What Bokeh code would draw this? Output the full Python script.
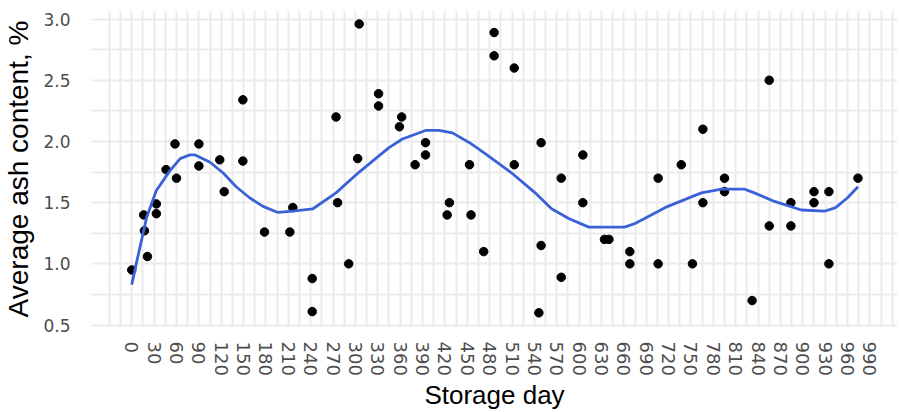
from bokeh.plotting import figure
from bokeh.models import FixedTicker, Range1d, NumeralTickFormatter
from bokeh.embed import file_html
from bokeh.resources import INLINE

# ---- data ----
storage_day = [0, 16, 17, 21, 33, 33, 46, 58, 60, 90,
               90, 118, 124, 149, 149, 178, 212, 216, 242, 242,
               274, 276, 291, 303, 305, 331, 331, 359, 362, 380,
               394, 394, 423, 426, 453, 455, 472, 486, 486, 513,
               513, 546, 549, 549, 576, 576, 605, 605, 634, 640,
               668, 668, 706, 706, 737, 752, 766, 766, 795, 795,
               832, 855, 855, 884, 884, 915, 915, 935, 935, 974]
ash_content = [0.95, 1.40, 1.27, 1.06, 1.49, 1.41, 1.77, 1.98, 1.70, 1.98,
               1.80, 1.85, 1.59, 2.34, 1.84, 1.26, 1.26, 1.46, 0.88, 0.61,
               2.20, 1.50, 1.00, 1.86, 2.96, 2.39, 2.29, 2.12, 2.20, 1.81,
               1.99, 1.89, 1.40, 1.50, 1.81, 1.40, 1.10, 2.89, 2.70, 2.60,
               1.81, 0.60, 1.99, 1.15, 1.70, 0.89, 1.89, 1.50, 1.20, 1.20,
               1.10, 1.00, 1.70, 1.00, 1.81, 1.00, 2.10, 1.50, 1.70, 1.59,
               0.70, 2.50, 1.31, 1.50, 1.31, 1.59, 1.50, 1.59, 1.00, 1.70]

smooth_day = [0, 6, 20, 33, 51, 65, 78, 85, 105, 123, 140, 158, 176, 196, 216,
              243, 274, 305, 345, 363, 394, 412, 430, 453, 474, 510, 541, 563,
              586, 613, 644, 661, 675, 719, 764, 791, 822, 835, 862, 898, 929,
              944, 960, 974]
smooth_ash = [0.83, 1.00, 1.38, 1.60, 1.76, 1.86, 1.89, 1.89, 1.83, 1.74, 1.63,
              1.54, 1.47, 1.42, 1.43, 1.45, 1.58, 1.75, 1.95, 2.02, 2.09, 2.09,
              2.07, 1.99, 1.90, 1.74, 1.58, 1.45, 1.37, 1.30, 1.30, 1.30, 1.33,
              1.47, 1.58, 1.61, 1.61, 1.58, 1.51, 1.44, 1.43, 1.46, 1.54, 1.63]

x_ticks = list(range(0, 991, 30))
x_grid = list(range(-30, 1021, 15))
y_ticks = [0.5, 1.0, 1.5, 2.0, 2.5, 3.0]
y_grid = [0.5, 0.75, 1.0, 1.25, 1.5, 1.75, 2.0, 2.25, 2.5, 2.75, 3.0]

TITLE_FONT = "Liberation Sans"
TICK_FONT = "DejaVu Sans"

p = figure(width=899, height=412, output_backend="svg", toolbar_location=None,
           x_range=Range1d(-54, 1027), y_range=Range1d(0.48, 3.07),
           min_border_left=88, min_border_right=2, min_border_top=10,
           min_border_bottom=84)

p.background_fill_color = "white"
p.border_fill_color = "white"
p.outline_line_color = None

# grid
p.xgrid.ticker = FixedTicker(ticks=x_grid)
p.ygrid.ticker = FixedTicker(ticks=y_grid)
for g in (p.xgrid, p.ygrid):
    g.grid_line_color = "#EBEBEB"
    g.grid_line_width = 2

# axes
p.xaxis.ticker = FixedTicker(ticks=x_ticks)
p.yaxis.ticker = FixedTicker(ticks=y_ticks)
p.yaxis.formatter = NumeralTickFormatter(format="0.0")
for ax in (p.xaxis, p.yaxis):
    ax.axis_line_color = None
    ax.major_tick_line_color = None
    ax.minor_tick_line_color = None
    ax.major_label_text_font = TICK_FONT
    ax.major_label_text_color = "#4D4D4D"
    ax.axis_label_text_font = TITLE_FONT
    ax.axis_label_text_font_style = "normal"
    ax.axis_label_text_color = "black"

p.xaxis.major_label_text_font_size = "18px"
p.yaxis.major_label_text_font_size = "17px"
p.xaxis.axis_label_text_font_size = "26px"
p.yaxis.axis_label_text_font_size = "28px"

p.xaxis.major_label_orientation = "vertical"
p.xaxis.major_label_standoff = 8
p.xaxis.axis_label = "Storage day"
p.xaxis.axis_label_standoff = 1
p.yaxis.major_label_standoff = 15
p.yaxis.axis_label = "Average ash content, %"
p.yaxis.axis_label_standoff = 6

p.scatter(storage_day, ash_content, size=8.5, color="black")
p.line(smooth_day, smooth_ash, line_color="#3A62D8", line_width=2.8)

open("out.html", "w").write(file_html(p, INLINE))
